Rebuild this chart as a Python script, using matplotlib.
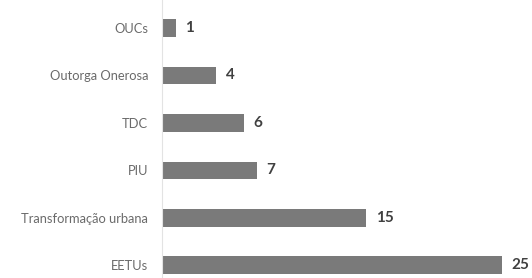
import matplotlib.pyplot as plt

# dados
categorias = ["OUCs", "Outorga Onerosa", "TDC", "PIU", "Transformação urbana", "EETUs"]
valores = [1, 4, 6, 7, 15, 25]

plt.rcParams['font.family'] = ['Lato', 'DejaVu Sans']

fig = plt.figure(figsize=(5.32, 2.78), dpi=100)
ax = fig.add_axes([162 / 532, 0, 1 - 162 / 532, 1])

pos = list(range(len(categorias)))
ax.barh(pos, valores, height=0.37, color="#7a7a7a")

for p, v in zip(pos, valores):
    ax.text(v + 0.7, p, str(v), va="center", ha="left",
            fontsize=11, fontweight="bold", color="#404040")

ax.set_yticks(pos)
ax.set_yticklabels(categorias, fontsize=9.3, color="#6a6a6a")
ax.tick_params(axis="y", length=0, pad=10)
ax.set_xticks([])
ax.set_xlim(0, 27.2)
ax.set_ylim(5.27, -0.59)

for s in ["top", "right", "bottom"]:
    ax.spines[s].set_visible(False)
ax.spines["left"].set_color("#e3e3e3")
ax.spines["left"].set_linewidth(0.8)

fig.savefig("out.png", dpi=100)
